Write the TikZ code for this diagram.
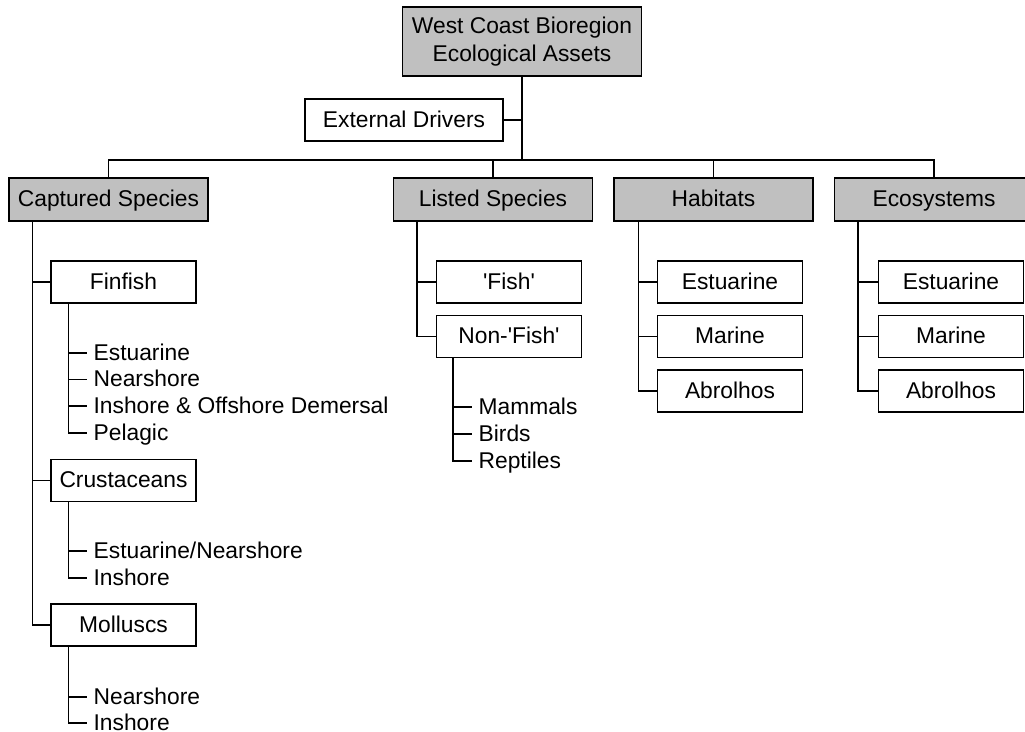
\documentclass[tikz,border=0pt]{standalone}
\usepackage{fontspec}
\setmainfont{Liberation Sans}
\usetikzlibrary{calc}
\definecolor{assetgray}{RGB}{192,192,192}
\tikzset{mainbox/.style = {shape=rectangle,draw,fill=assetgray,minimum width=199pt,minimum height=43pt,inner sep=0pt,text height=15pt,text depth=1pt}}
\tikzset{subbox/.style = {shape=rectangle,draw,minimum width=145pt,minimum height=42pt,inner sep=0pt,text height=15pt,text depth=1pt}}
\tikzset{leaf/.style = {anchor=west,inner xsep=6pt,inner ysep=0pt,text height=15pt,text depth=1pt}}

\begin{document}
\begin{tikzpicture}[x=1pt,y=-1pt,line width=1.3pt,font=\fontsize{22.8}{28}\selectfont]
  \useasboundingbox (0,0) rectangle (1025,731);

  \node[mainbox, minimum width=239pt, minimum height=69pt, align=center, text height=, text depth=] (root) at (522,41.5) {West Coast Bioregion\\Ecological Assets};
  \node[subbox, minimum width=198pt] (drivers) at (404,120) {External Drivers};
  \coordinate (bus) at (522,160);

  \node[mainbox] (captured) at (108.5,199.5) {Captured Species};
  \node[mainbox] (listed) at (493,199.5) {Listed Species};
  \node[mainbox] (habitats) at (713.5,199.5) {Habitats};
  \node[mainbox] (ecosystems) at (934,199.5) {Ecosystems};

  % captured species
  \node[subbox] (finfish) at (123.5,282) {Finfish};
  \node[subbox] (crust) at (123.5,480.5) {Crustaceans};
  \node[subbox] (mollusc) at (123.5,625) {Molluscs};
  \node[leaf] (fin1) at (87,353) {Estuarine};
  \node[leaf] (fin2) at (87,379.5) {Nearshore};
  \node[leaf] (fin3) at (87,406) {Inshore \& Offshore Demersal};
  \node[leaf] (fin4) at (87,433) {Pelagic};
  \node[leaf] (cru1) at (87,551) {Estuarine/Nearshore};
  \node[leaf] (cru2) at (87,578) {Inshore};
  \node[leaf] (mol1) at (87,697) {Nearshore};
  \node[leaf] (mol2) at (87,723) {Inshore};

  % listed species
  \node[subbox] (fish) at (509,282) {\textquotesingle Fish\textquotesingle};
  \node[subbox] (nonfish) at (509,336.5) {Non-\textquotesingle Fish\textquotesingle};
  \node[leaf] (non1) at (472,407) {Mammals};
  \node[leaf] (non2) at (472,434) {Birds};
  \node[leaf] (non3) at (472,461) {Reptiles};

  % habitats and ecosystems
  \node[subbox] (hestu) at (730,282) {Estuarine};
  \node[subbox] (hmar) at (730,336.5) {Marine};
  \node[subbox] (habr) at (730,391) {Abrolhos};
  \node[subbox] (eestu) at (951,282) {Estuarine};
  \node[subbox] (emar) at (951,336.5) {Marine};
  \node[subbox] (eabr) at (951,391) {Abrolhos};

  % top level
  \draw (root.south) -- (bus);
  \draw (drivers.east) -- (drivers.east -| bus);
  \draw (captured.north) |- (bus) -| (ecosystems.north);
  \draw (bus -| listed.north) -- (listed.north);
  \draw (bus -| habitats.north) -- (habitats.north);

  % stems
  \coordinate (capstem) at ($(captured.south west)+(24,0)$);
  \coordinate (finstem) at ($(finfish.south west)+(18,0)$);
  \coordinate (crustem) at ($(crust.south west)+(18,0)$);
  \coordinate (molstem) at ($(mollusc.south west)+(18,0)$);
  \coordinate (lisstem) at ($(listed.south west)+(24,0)$);
  \coordinate (nonstem) at ($(nonfish.south west)+(17,0)$);
  \coordinate (habstem) at ($(habitats.south west)+(25,0)$);
  \coordinate (ecostem) at ($(ecosystems.south west)+(24,0)$);

  \draw (capstem) |- (mollusc.west);
  \draw (capstem |- finfish.west) -- (finfish.west);
  \draw (capstem |- crust.west) -- (crust.west);

  \draw (finstem) |- (fin4.west);
  \draw (finstem |- fin1.west) -- (fin1.west);
  \draw (finstem |- fin2.west) -- (fin2.west);
  \draw (finstem |- fin3.west) -- (fin3.west);
  \draw (crustem) |- (cru2.west);
  \draw (crustem |- cru1.west) -- (cru1.west);
  \draw (molstem) |- (mol2.west);
  \draw (molstem |- mol1.west) -- (mol1.west);

  \draw (lisstem) |- (nonfish.west);
  \draw (lisstem |- fish.west) -- (fish.west);
  \draw (nonstem) |- (non3.west);
  \draw (nonstem |- non1.west) -- (non1.west);
  \draw (nonstem |- non2.west) -- (non2.west);

  \draw (habstem) |- (habr.west);
  \draw (habstem |- hestu.west) -- (hestu.west);
  \draw (habstem |- hmar.west) -- (hmar.west);
  \draw (ecostem) |- (eabr.west);
  \draw (ecostem |- eestu.west) -- (eestu.west);
  \draw (ecostem |- emar.west) -- (emar.west);
\end{tikzpicture}
\end{document}
